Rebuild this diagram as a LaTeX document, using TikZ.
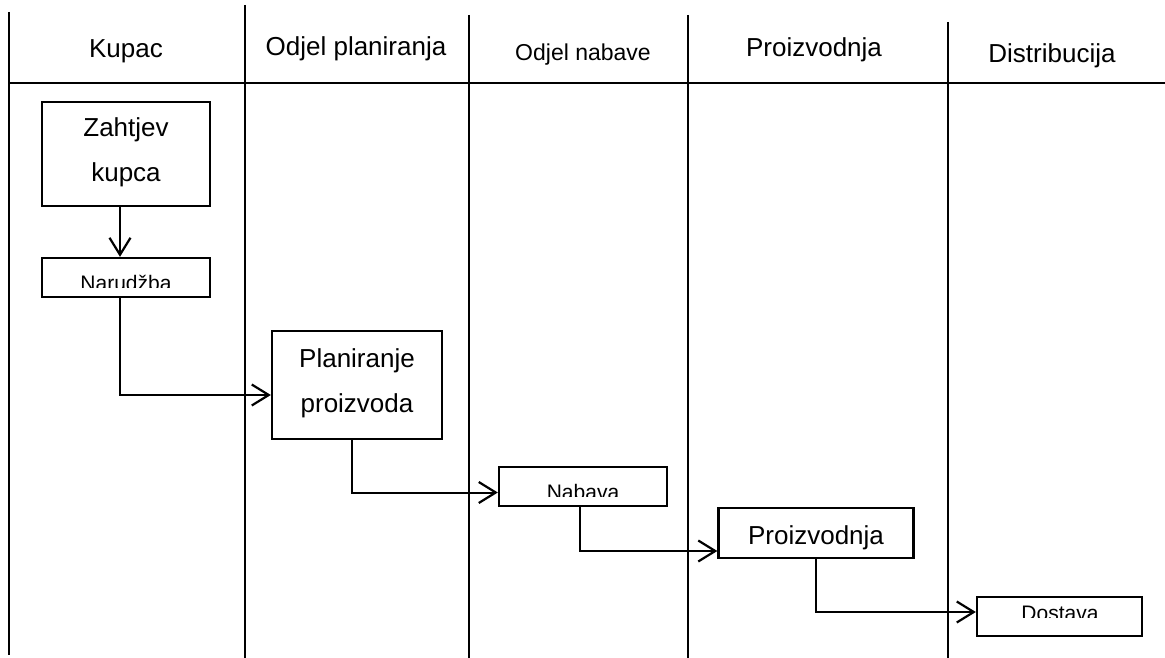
\documentclass[tikz,border=0pt]{standalone}
\usepackage{fontspec}
\setmainfont{Liberation Sans}
\usetikzlibrary{arrows.meta}
\begin{document}
\begin{tikzpicture}[x=1pt,y=-1pt,
  lane/.style={line width=1.7pt},
  box/.style={draw, line width=2.3pt, inner sep=0pt},
  conn/.style={line width=2pt, -{Straight Barb[length=17pt,width=21pt,line width=2.2pt]}},
  hdr/.style={font=\fontsize{26}{30}\selectfont, anchor=base, inner sep=0pt},
  hdrs/.style={font=\fontsize{23}{27}\selectfont, anchor=base, inner sep=0pt},
  bigtxt/.style={font=\fontsize{26}{30}\selectfont, anchor=base, inner sep=0pt},
  smalltxt/.style={font=\fontsize{21}{24}\selectfont, anchor=base, inner sep=0pt}]
\useasboundingbox (0,0) rectangle (1165,658);
% swimlanes
\draw[lane] (9,12) -- (9,655);
\draw[lane] (245,5) -- (245,658);
\draw[lane] (469,15) -- (469,658);
\draw[lane] (688,15) -- (688,658);
\draw[lane] (948,22) -- (948,658);
\draw[lane] (9,83) -- (1165,83);
% headers
\node[hdr] (h1) at (126,58) {Kupac};
\node[hdr] (h2) at (356,56) {Odjel planiranja};
\node[hdrs] (h3) at (583,61) {Odjel nabave};
\node[hdr] (h4) at (814,57) {Proizvodnja};
\node[hdr] (h5) at (1052,63) {Distribucija};
% boxes
\node[box, minimum width=168pt, minimum height=104pt] (zah) at (126,154) {};
\node[bigtxt] (zah1) at (126,137) {Zahtjev};
\node[bigtxt] (zah2) at (126,182) {kupca};
\node[box, minimum width=168pt, minimum height=39pt] (nar) at (126,277.5) {};
\begin{scope}\clip (42,258) rectangle (210,287);
\node[smalltxt] (nart) at (126,290) {Narudžba};
\end{scope}
\node[box, minimum width=170pt, minimum height=108pt] (plan) at (357,385) {};
\node[bigtxt] (plan1) at (357,367) {Planiranje};
\node[bigtxt] (plan2) at (357,412) {proizvoda};
\node[box, minimum width=168pt, minimum height=39pt] (nab) at (583,486.5) {};
\begin{scope}\clip (499,467) rectangle (667,496);
\node[smalltxt] (nabt) at (583,499) {Nabava};
\end{scope}
\node[box, minimum width=195pt, minimum height=50pt] (proiz) at (816,533) {};
\node[bigtxt] (proizt) at (816,544) {Proizvodnja};
\node[box, minimum width=165pt, minimum height=39pt] (dos) at (1059.5,616.5) {};
\begin{scope}\clip (977,597) rectangle (1142,617);
\node[smalltxt] (dost) at (1060,620) {Dostava};
\end{scope}
% connectors
\draw[conn] ([xshift=-6pt]zah.south) -- ([xshift=-6pt]nar.north);
\draw[conn] ([xshift=-6pt]nar.south) |- ([yshift=-10pt]plan.west);
\draw[conn] ([xshift=-5pt]plan.south) |- ([yshift=-6pt]nab.west);
\draw[conn] ([xshift=-3pt]nab.south) |- ([yshift=-18pt]proiz.west);
\draw[conn] (proiz.south) |- ([yshift=4.5pt]dos.west);
\end{tikzpicture}
\end{document}
